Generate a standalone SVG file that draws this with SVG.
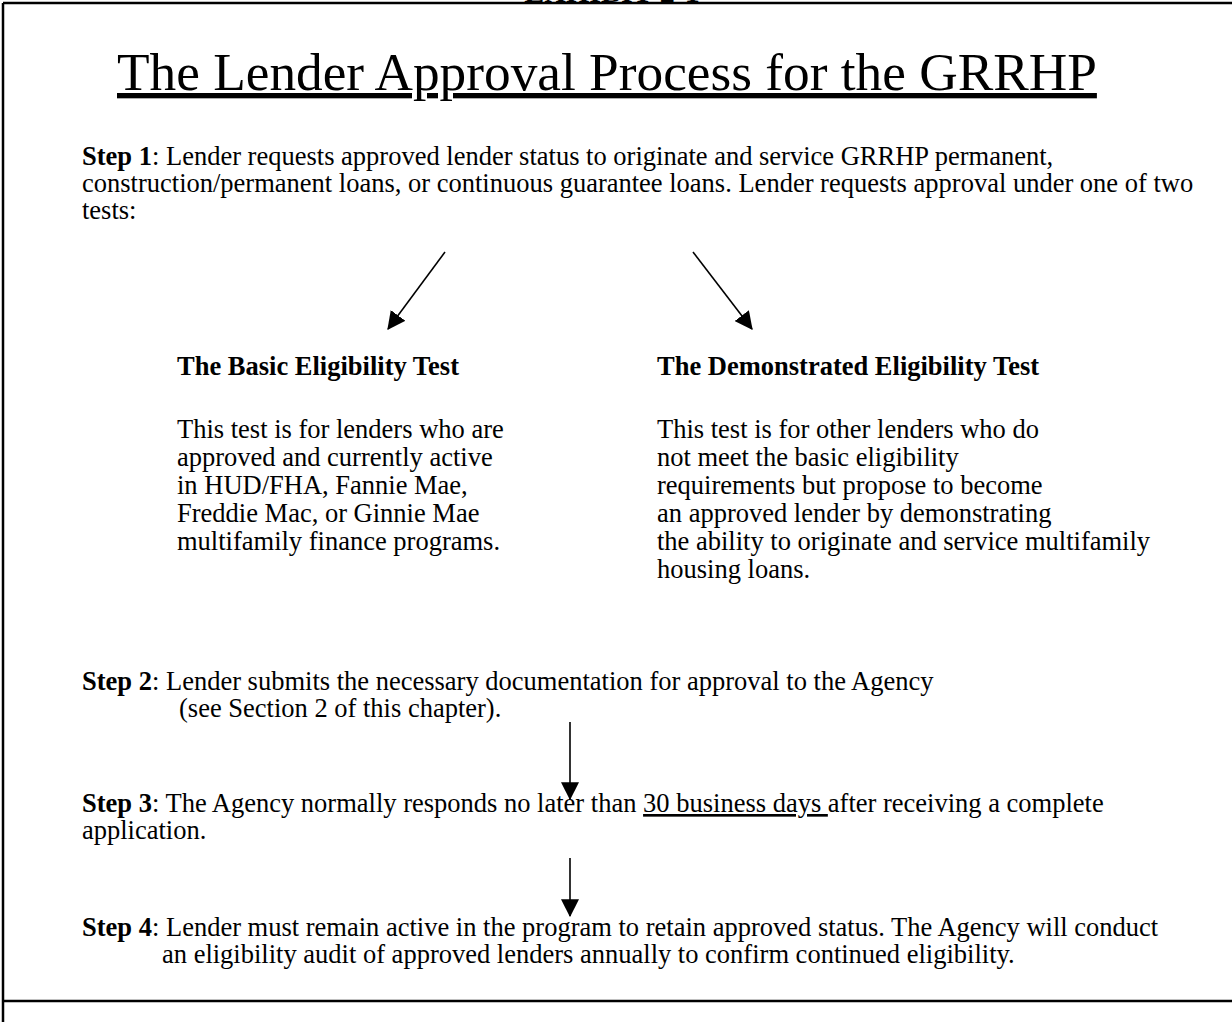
<svg xmlns="http://www.w3.org/2000/svg" width="1232" height="1022" viewBox="0 0 1232 1022">
  <style>
    text { font-family: "Liberation Serif", "Times New Roman", serif; fill: #000; }
    .body { font-size: 26.5px; }
    .b { font-weight: bold; }
    .title { font-size: 53.3px; text-decoration: underline; }
    .u { text-decoration: underline; }
    .frame { stroke: #000; stroke-width: 2.5; fill: none; }
    .conn { stroke: #000; stroke-width: 1.6; fill: none; marker-end: url(#head); }
  </style>
  <defs>
    <marker id="head" markerUnits="userSpaceOnUse" markerWidth="18" markerHeight="18" viewBox="0 0 16 16" refX="15" refY="8" orient="auto">
      <path d="M0,0 L16,8 L0,16 Z" fill="#000"/>
    </marker>
  </defs>
  <rect width="1232" height="1022" fill="#fff"/>

  <!-- exhibit caption, mostly above the page edge -->
  <text x="612" y="2" text-anchor="middle" class="b" style="font-size:30px">EXHIBIT 2-1</text>

  <!-- page frame -->
  <g id="frame">
    <line class="frame" x1="3" y1="3" x2="1232" y2="3"/>
    <line class="frame" x1="3" y1="3" x2="3" y2="1022"/>
    <line class="frame" x1="3" y1="1001" x2="1232" y2="1001"/>
  </g>

  <g id="title">
    <text class="title" x="117" y="90">The Lender Approval Process for the GRRHP</text>
  </g>

  <g id="step1">
    <text class="body" x="82" y="165"><tspan class="b">Step 1</tspan>: Lender requests approved lender status to originate and service GRRHP permanent,</text>
    <text class="body" x="82" y="192">construction/permanent loans, or continuous guarantee loans. Lender requests approval under one of two</text>
    <text class="body" x="82" y="219">tests:</text>
  </g>

  <g id="basic-test">
    <text class="body b" x="177" y="375">The Basic Eligibility Test</text>
    <text class="body" x="177" y="438">This test is for lenders who are</text>
    <text class="body" x="177" y="466">approved and currently active</text>
    <text class="body" x="177" y="494">in HUD/FHA, Fannie Mae,</text>
    <text class="body" x="177" y="522">Freddie Mac, or Ginnie Mae</text>
    <text class="body" x="177" y="550">multifamily finance programs.</text>
  </g>

  <g id="demonstrated-test">
    <text class="body b" x="657" y="375">The Demonstrated Eligibility Test</text>
    <text class="body" x="657" y="438">This test is for other lenders who do</text>
    <text class="body" x="657" y="466">not meet the basic eligibility</text>
    <text class="body" x="657" y="494">requirements but propose to become</text>
    <text class="body" x="657" y="522">an approved lender by demonstrating</text>
    <text class="body" x="657" y="550">the ability to originate and service multifamily</text>
    <text class="body" x="657" y="578">housing loans.</text>
  </g>

  <g id="step2">
    <text class="body" x="82" y="690"><tspan class="b">Step 2</tspan>: Lender submits the necessary documentation for approval to the Agency</text>
    <text class="body" x="179" y="717">(see Section 2 of this chapter).</text>
  </g>

  <g id="step3">
    <text class="body" x="82" y="812"><tspan class="b">Step 3</tspan>: The Agency normally responds no later than <tspan class="u">30 business days </tspan>after receiving a complete</text>
    <text class="body" x="82" y="839">application.</text>
  </g>

  <g id="step4">
    <text class="body" x="82" y="936"><tspan class="b">Step 4</tspan>: Lender must remain active in the program to retain approved status. The Agency will conduct</text>
    <text class="body" x="162" y="963">an eligibility audit of approved lenders annually to confirm continued eligibility.</text>
  </g>

  <g id="connectors">
    <line class="conn" x1="445" y1="252" x2="388" y2="329"/>
    <line class="conn" x1="693" y1="252" x2="752" y2="329"/>
    <line class="conn" x1="570" y1="722" x2="570" y2="799"/>
    <line class="conn" x1="570" y1="858" x2="570" y2="916"/>
  </g>
</svg>
